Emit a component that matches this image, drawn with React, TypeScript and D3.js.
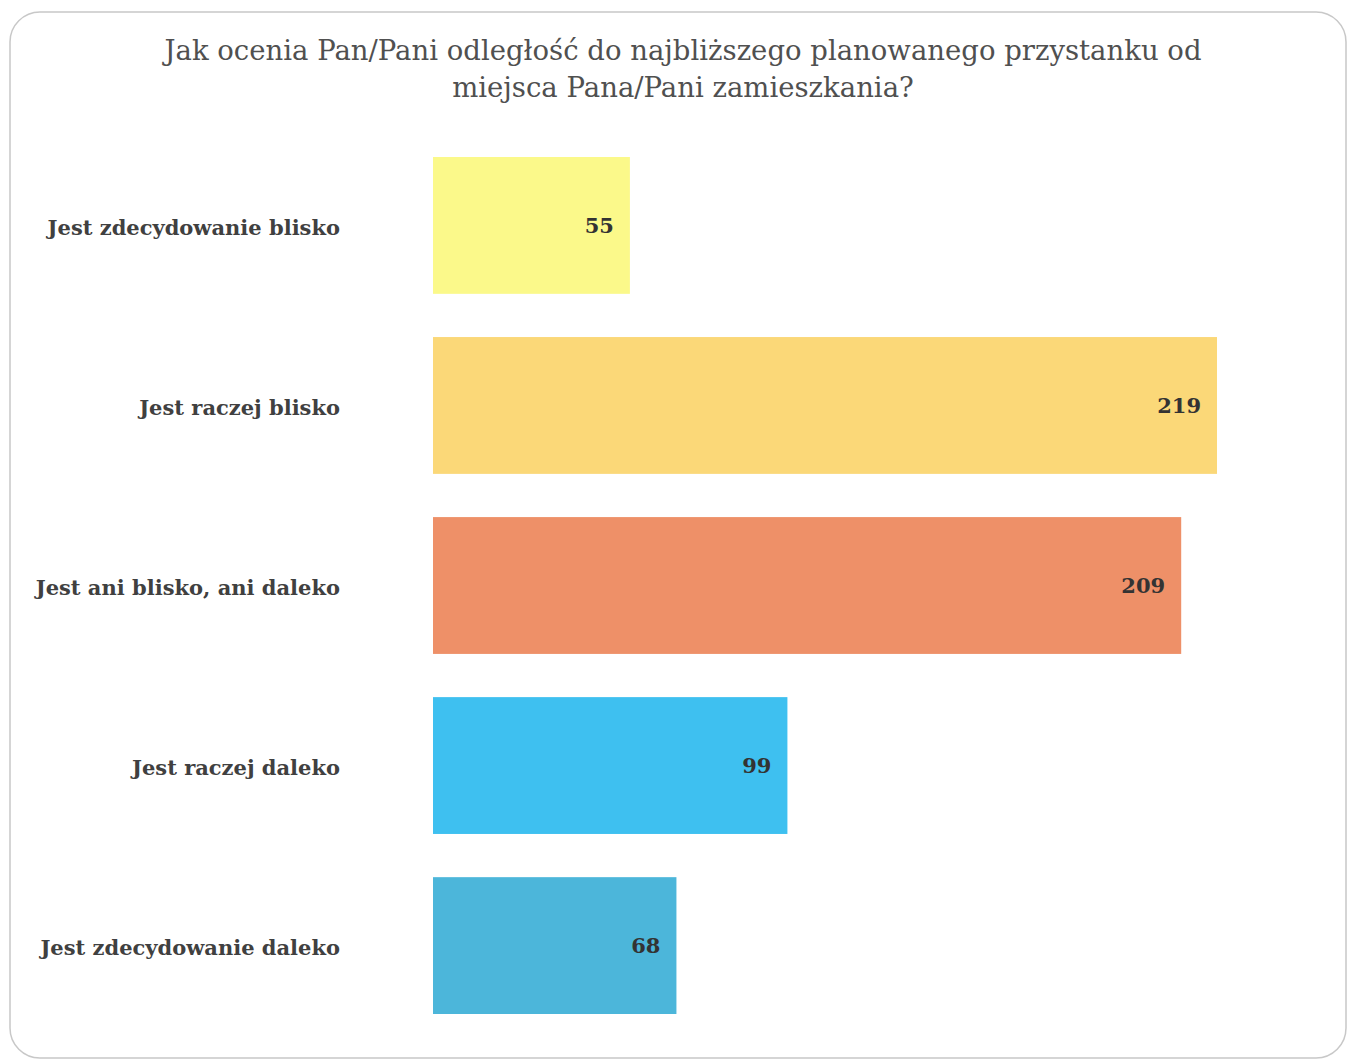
import React from "react";
import * as d3 from "d3";

const categories = [
  "Jest zdecydowanie blisko",
  "Jest raczej blisko",
  "Jest ani blisko, ani daleko",
  "Jest raczej daleko",
  "Jest zdecydowanie daleko",
];
const values = [55, 219, 209, 99, 68];
const colors = ["#FBF98A", "#FBD878", "#EE9068", "#3EC0F0", "#4CB6DA"];
const titleLines = [
  "Jak ocenia Pan/Pani odległość do najbliższego planowanego przystanku od",
  "miejsca Pana/Pani zamieszkania?",
];

const W = 1348;
const H = 1059;
const FONT = "'DejaVu Serif', 'Liberation Serif', serif";

export default function App() {
  const y = d3
    .scaleBand<string>()
    .domain(categories)
    .range([157, 1014])
    .paddingInner(0.24)
    .paddingOuter(0);
  const x = d3.scaleLinear().domain([0, 219]).range([433, 1217]);

  return (
    <svg
      width={W}
      height={H}
      style={{ position: "absolute", left: 0, top: 0, background: "#fff" }}
    >
      <rect
        x={10}
        y={12}
        width={1336}
        height={1046}
        rx={30}
        ry={30}
        fill="#fff"
        stroke="#c8c8c8"
        strokeWidth={1.5}
      />
      {titleLines.map((t, i) => (
        <text
          key={i}
          x={683}
          y={60 + i * 37}
          textAnchor="middle"
          fontFamily={FONT}
          fontSize={27.5}
          fontWeight={500}
          fill="#505050"
        >
          {t}
        </text>
      ))}
      {categories.map((c, i) => {
        const by = y(c)!;
        const bw = y.bandwidth();
        return (
          <g key={c}>
            <rect
              x={x(0)}
              y={by}
              width={x(values[i]) - x(0)}
              height={bw}
              fill={colors[i]}
            />
            <text
              x={340}
              y={by + bw / 2 + 2}
              dy="0.35em"
              textAnchor="end"
              fontFamily={FONT}
              fontWeight="bold"
              fontSize={21}
              fill="#404040"
            >
              {c}
            </text>
            <text
              x={x(values[i]) - 16}
              y={by + bw / 2}
              dy="0.35em"
              textAnchor="end"
              fontFamily={FONT}
              fontWeight="bold"
              fontSize={21}
              fill="#333"
            >
              {values[i]}
            </text>
          </g>
        );
      })}
    </svg>
  );
}
